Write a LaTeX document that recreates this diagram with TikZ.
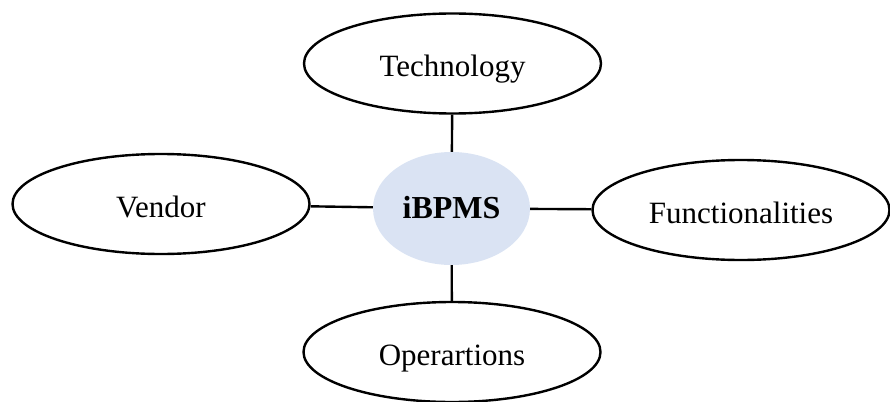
\documentclass[tikz,border=0pt]{standalone}
\usepackage{fontspec}
\setmainfont{Liberation Serif}
\usetikzlibrary{shapes.geometric}
\definecolor{hubfill}{HTML}{DAE3F3}
\tikzset{
  topic/.style={ellipse, draw=black, line width=2.4pt, fill=white, inner sep=0pt,
    minimum width=297pt, minimum height=100pt, text height=26pt, text depth=0pt,
    font=\fontsize{31}{36}\selectfont},
  hub/.style={ellipse, fill=hubfill, draw=none, inner sep=0pt,
    minimum width=157pt, minimum height=113pt, text height=20pt, text depth=0pt,
    font=\bfseries\fontsize{32}{36}\selectfont},
  link/.style={line width=2.4pt, black}
}
\begin{document}
\begin{tikzpicture}[x=1pt,y=-1pt]
  \useasboundingbox (0,0) rectangle (890,401);
  % central concept
  \node[hub] (core) at (451.5,208.5) {iBPMS};
  % surrounding aspects
  \node[topic] (tech) at (452.5,63.5) {Technology};
  \node[topic] (vend) at (161,204) {Vendor};
  \node[topic] (func) at (741,210) {Functionalities};
  \node[topic] (oper) at (452,352) {Operartions};
  % spokes
  \draw[link] (tech) -- (core);
  \draw[link] (vend) -- (core);
  \draw[link] (core) -- (func);
  \draw[link] (core) -- (oper);
\end{tikzpicture}
\end{document}
